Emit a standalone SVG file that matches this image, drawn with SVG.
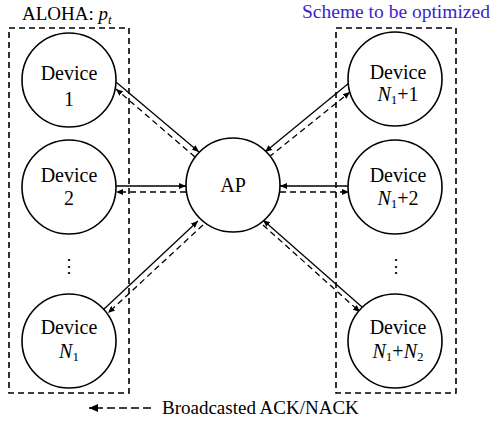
<svg xmlns="http://www.w3.org/2000/svg" width="498" height="423" viewBox="0 0 498 423" font-family="'Liberation Serif', 'Times New Roman', serif">
<style>
text{font-family:'Liberation Serif','Times New Roman',serif;font-size:19px;fill:#000}
.node{fill:#fff;stroke:#000;stroke-width:1.6}
.box{fill:none;stroke:#000;stroke-width:1.6;stroke-dasharray:6,4}
.s{stroke:#000;stroke-width:1.3;fill:none;marker-end:url(#ah)}
.d{stroke:#000;stroke-width:1.3;fill:none;stroke-dasharray:6,4;marker-end:url(#ah)}
.lg{stroke:#000;stroke-width:1.6;fill:none;stroke-dasharray:8,4;marker-end:url(#ahl)}
.c{text-anchor:middle;font-size:20px}
.i{font-style:italic}
.sub{font-size:13px}
</style>
<defs>
<marker id="ah" markerUnits="userSpaceOnUse" markerWidth="8" markerHeight="6" refX="7" refY="3" orient="auto">
<path d="M0,0 L7,3 L0,6 z" fill="#000"/>
</marker>
<marker id="ahl" markerUnits="userSpaceOnUse" markerWidth="10" markerHeight="8" refX="9" refY="4" orient="auto">
<path d="M0,0 L9,4 L0,8 z" fill="#000"/>
</marker>
</defs>
<rect width="498" height="423" fill="#fff"/>
<g id="groups">
<rect class="box" x="9" y="28" width="120" height="365"/>
<rect class="box" x="336" y="28" width="120" height="365"/>
<text x="22" y="20" font-family="Liberation Serif, serif">ALOHA: <tspan class="i">p</tspan><tspan class="i sub" dy="4">t</tspan></text>
<text x="302" y="18" font-family="Liberation Serif, serif" style="fill:#3a1fcc;font-size:19.5px">Scheme to be optimized</text>
</g>
<g id="connectors">
<line class="s" x1="116" y1="82" x2="199" y2="152"/>
<line class="d" x1="195" y1="157" x2="116" y2="89"/>
<line class="s" x1="116" y1="186" x2="186" y2="186"/>
<line class="d" x1="186" y1="192" x2="116" y2="192"/>
<line class="s" x1="103" y1="310" x2="198" y2="221"/>
<line class="d" x1="203" y1="225" x2="108" y2="313"/>
<line class="s" x1="349" y1="83" x2="265" y2="152"/>
<line class="d" x1="269" y1="157" x2="350" y2="92"/>
<line class="s" x1="349" y1="186" x2="280" y2="186"/>
<line class="d" x1="280" y1="192" x2="349" y2="192"/>
<line class="s" x1="362" y1="307" x2="263" y2="220"/>
<line class="d" x1="263" y1="225" x2="360" y2="312"/>
</g>
<g id="device1">
<circle class="node" cx="69" cy="80" r="47"/>
<text class="c" x="69" y="80" font-family="Liberation Serif, serif">Device</text>
<text class="c" x="69" y="106" font-family="Liberation Serif, serif">1</text>
</g>
<g id="device2">
<circle class="node" cx="69" cy="187" r="47"/>
<text class="c" x="69" y="182" font-family="Liberation Serif, serif">Device</text>
<text class="c" x="69" y="205" font-family="Liberation Serif, serif">2</text>
</g>
<g id="dotsLeft">
<text class="c" x="69" y="272" style="font-family:'DejaVu Serif',serif;font-size:18px">⋮</text>
</g>
<g id="deviceN1">
<circle class="node" cx="69" cy="341" r="47"/>
<text class="c" x="69" y="334" font-family="Liberation Serif, serif">Device</text>
<text class="c" x="69" y="358" font-family="Liberation Serif, serif"><tspan class="i">N</tspan><tspan class="sub" dy="3">1</tspan></text>
</g>
<g id="ap">
<circle class="node" cx="233" cy="185" r="47"/>
<text class="c" x="233" y="192" font-family="Liberation Serif, serif">AP</text>
</g>
<g id="deviceN1p1">
<circle class="node" cx="395" cy="79" r="47"/>
<text class="c" x="398" y="79" font-family="Liberation Serif, serif">Device</text>
<text class="c" x="398" y="101" font-family="Liberation Serif, serif"><tspan class="i">N</tspan><tspan class="sub" dy="3">1</tspan><tspan dy="-3">+1</tspan></text>
</g>
<g id="deviceN1p2">
<circle class="node" cx="395" cy="187" r="47"/>
<text class="c" x="398" y="182" font-family="Liberation Serif, serif">Device</text>
<text class="c" x="398" y="205" font-family="Liberation Serif, serif"><tspan class="i">N</tspan><tspan class="sub" dy="3">1</tspan><tspan dy="-3">+2</tspan></text>
</g>
<g id="dotsRight">
<text class="c" x="396" y="272" style="font-family:'DejaVu Serif',serif;font-size:18px">⋮</text>
</g>
<g id="deviceN1pN2">
<circle class="node" cx="395" cy="341" r="47"/>
<text class="c" x="398" y="334" font-family="Liberation Serif, serif">Device</text>
<text class="c" x="398" y="358" font-family="Liberation Serif, serif"><tspan class="i">N</tspan><tspan class="sub" dy="3">1</tspan><tspan dy="-3">+</tspan><tspan class="i">N</tspan><tspan class="sub" dy="3">2</tspan></text>
</g>
<g id="legend">
<line class="lg" x1="151" y1="408" x2="89" y2="408"/>
<text x="162" y="414" font-family="Liberation Serif, serif">Broadcasted ACK/NACK</text>
</g>
</svg>
